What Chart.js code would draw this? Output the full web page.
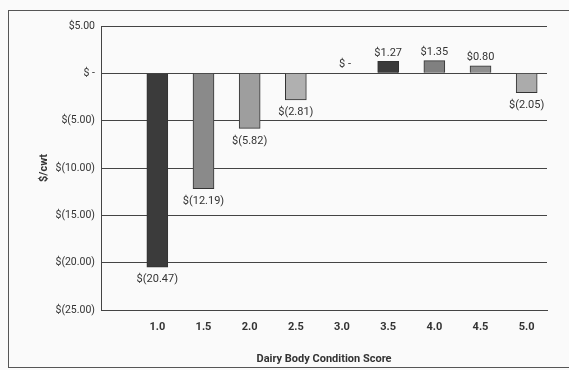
<!DOCTYPE html>
<html>
<head>
<meta charset="utf-8">
<script src="https://cdn.jsdelivr.net/npm/chart.js@4"></script>
<style>
  html, body { margin: 0; padding: 0; background: #fafafa; }
  #wrap { width: 569px; height: 370px; }
</style>
</head>
<body>
<div id="wrap"><canvas id="bcsChart" width="569" height="370"></canvas></div>
<script>
// body condition scores and $/cwt difference
const scores = [1.0, 1.5, 2.0, 2.5, 3.0, 3.5, 4.0, 4.5, 5.0];
const values = [-20.47, -12.19, -5.82, -2.81, 0, 1.27, 1.35, 0.80, -2.05];
const barColors = ['#3b3b3b', '#8a8a8a', '#9e9e9e', '#b0b0b0', '#999999', '#3b3b3b', '#808080', '#8f8f8f', '#ababab'];
const yTicks = [5, 0, -5, -10, -15, -20, -25];

const FONT = "Roboto, 'Liberation Sans', sans-serif";

function money(v) {
    if (Math.abs(v) < 0.001) return '$ -';
    if (v < 0) return '$(' + Math.abs(v).toFixed(2) + ')';
    return '$' + v.toFixed(2);
}

// outer frame round the figure
const framePlugin = {
    id: 'frame',
    beforeDraw(chart) {
        const ctx = chart.ctx;
        ctx.save();
        ctx.fillStyle = '#fafafa';
        ctx.fillRect(0, 0, chart.width, chart.height);
        ctx.strokeStyle = '#555';
        ctx.lineWidth = 1;
        ctx.strokeRect(8.5, 10.5, 620, 357);
        ctx.restore();
    }
};

// value labels under / over each bar
const valueLabels = {
    id: 'valueLabels',
    afterDatasetsDraw(chart) {
        const ctx = chart.ctx;
        const meta = chart.getDatasetMeta(0);
        ctx.save();
        ctx.font = '11px ' + FONT;
        ctx.fillStyle = '#333';
        ctx.textAlign = 'center';
        meta.data.forEach((bar, i) => {
            const v = values[i];
            if (v < 0) {
                ctx.textBaseline = 'top';
                ctx.fillText(money(v), bar.x, bar.y + 7);
            } else if (v > 0) {
                ctx.textBaseline = 'bottom';
                ctx.fillText(money(v), bar.x, bar.y - 3);
            } else {
                ctx.textBaseline = 'bottom';
                ctx.fillText(money(v), bar.x + 3, bar.y - 4);
            }
        });
        ctx.restore();
    }
};

new Chart(document.getElementById('bcsChart'), {
    type: 'bar',
    data: {
        datasets: [{
            data: scores.map((s, i) => ({ x: s, y: values[i] })),
            backgroundColor: barColors,
            borderColor: '#333',
            borderWidth: 1,
            barThickness: 21
        }]
    },
    options: {
        responsive: false,
        animation: false,
        layout: { padding: { left: 0, right: 22, top: 26, bottom: 4 } },
        plugins: { legend: { display: false }, tooltip: { enabled: false } },
        scales: {
            x: {
                type: 'linear',
                offset: false,
                min: 0.39,
                max: 5.22,
                afterBuildTicks: (scale) => { scale.ticks = scores.map(v => ({ value: v })); },
                afterFit: (scale) => { scale.height = 56; },
                grid: { display: false, drawTicks: false },
                border: { display: true, color: '#444', width: 1 },
                ticks: {
                    autoSkip: false,
                    maxRotation: 0,
                    padding: 11,
                    color: '#333',
                    font: { family: FONT, size: 11, weight: 'bold' },
                    callback: (v) => Number(v).toFixed(1)
                },
                title: {
                    display: true,
                    text: 'Dairy Body Condition Score',
                    color: '#333',
                    font: { family: FONT, size: 11, weight: 'bold' },
                    padding: { top: 10, bottom: 0 }
                }
            },
            y: {
                min: -25,
                max: 5,
                afterBuildTicks: (scale) => { scale.ticks = yTicks.map(v => ({ value: v })); },
                afterFit: (scale) => { scale.width = 101; },
                grid: { color: '#444', lineWidth: 1, drawTicks: false },
                border: { display: true, color: '#444', width: 1 },
                ticks: {
                    padding: 6,
                    color: '#333',
                    font: { family: FONT, size: 10.5 },
                    callback: (v) => money(v)
                },
                title: {
                    display: true,
                    text: '$/cwt',
                    color: '#333',
                    font: { family: FONT, size: 11, weight: 'bold' },
                    padding: { top: 38, bottom: 0 }
                }
            }
        }
    },
    plugins: [framePlugin, valueLabels]
});
</script>
</body>
</html>
